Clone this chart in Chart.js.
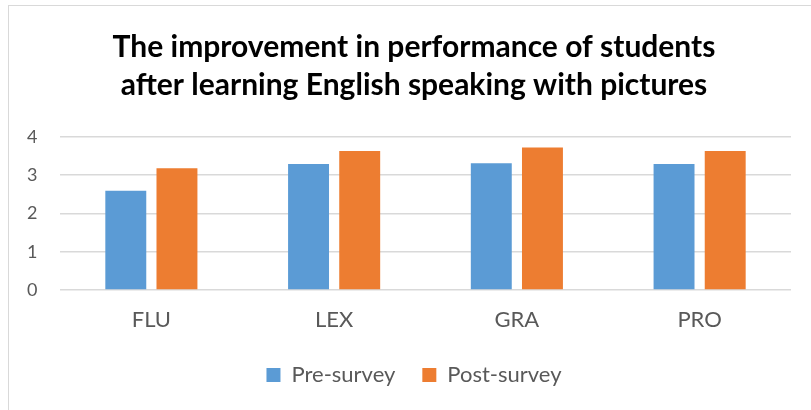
<!DOCTYPE html>
<html>
<head>
<meta charset="utf-8">
<script src="https://cdn.jsdelivr.net/npm/chart.js@4"></script>
<style>
  html, body { margin: 0; padding: 0; background: #fff; overflow: hidden; }
  #wrap {
    position: absolute; left: 8px; top: 5px; width: 803px; height: 405px;
    border-left: 1px solid #d9d9d9; border-top: 1px solid #d9d9d9;
  }
  canvas { display: block; }
</style>
</head>
<body>
<div id="wrap"><canvas id="improvementChart" width="802" height="404"></canvas></div>
<script>
const categories = ['FLU', 'LEX', 'GRA', 'PRO'];
const preSurvey = [2.59, 3.29, 3.31, 3.29];
const postSurvey = [3.18, 3.63, 3.72, 3.63];
const yTicks = [0, 1, 2, 3, 4];

const ctx = document.getElementById('improvementChart').getContext('2d');
new Chart(ctx, {
  type: 'bar',
  data: {
    labels: categories,
    datasets: [
      { label: 'Pre-survey', data: preSurvey, backgroundColor: '#5b9bd5' },
      { label: 'Post-survey', data: postSurvey, backgroundColor: '#ed7d31' },
    ],
  },
  options: {
    responsive: false,
    animation: false,
    categoryPercentage: 0.56,
    barPercentage: 0.8,
    // left padding keeps the title centred like the original; the y labels sit outside it (mirrored, negative padding)
    layout: { padding: { left: 28, right: 20, top: 0, bottom: 14 } },
    plugins: {
      title: {
        display: true,
        text: ['The improvement in performance of students', 'after learning English speaking with pictures'],
        color: '#000',
        font: { family: 'Lato', size: 30, weight: 'bold', lineHeight: 1.28 },
        padding: { top: 22, bottom: 32 },
      },
      legend: {
        position: 'bottom',
        labels: {
          color: '#595959',
          font: { family: 'Lato', size: 22 },
          boxWidth: 14,
          boxHeight: 14,
          padding: 27,
        },
      },
      tooltip: { enabled: false },
    },
    scales: {
      x: {
        grid: { display: false, drawTicks: false },
        border: { display: false },
        ticks: { color: '#595959', font: { family: 'Lato', size: 22 }, padding: 17 },
        afterFit: (axis) => { axis.height = 47; },
      },
      y: {
        min: 0,
        max: 4,
        afterBuildTicks: (axis) => { axis.ticks = yTicks.map((v) => ({ value: v })); },
        grid: { color: '#d9d9d9', lineWidth: 1.5, drawTicks: false },
        border: { display: false },
        ticks: { color: '#595959', font: { family: 'Lato', size: 18 }, mirror: true, padding: -33 },
        afterFit: (axis) => { axis.width = 23; },
      },
    },
  },
});
</script>
</body>
</html>
